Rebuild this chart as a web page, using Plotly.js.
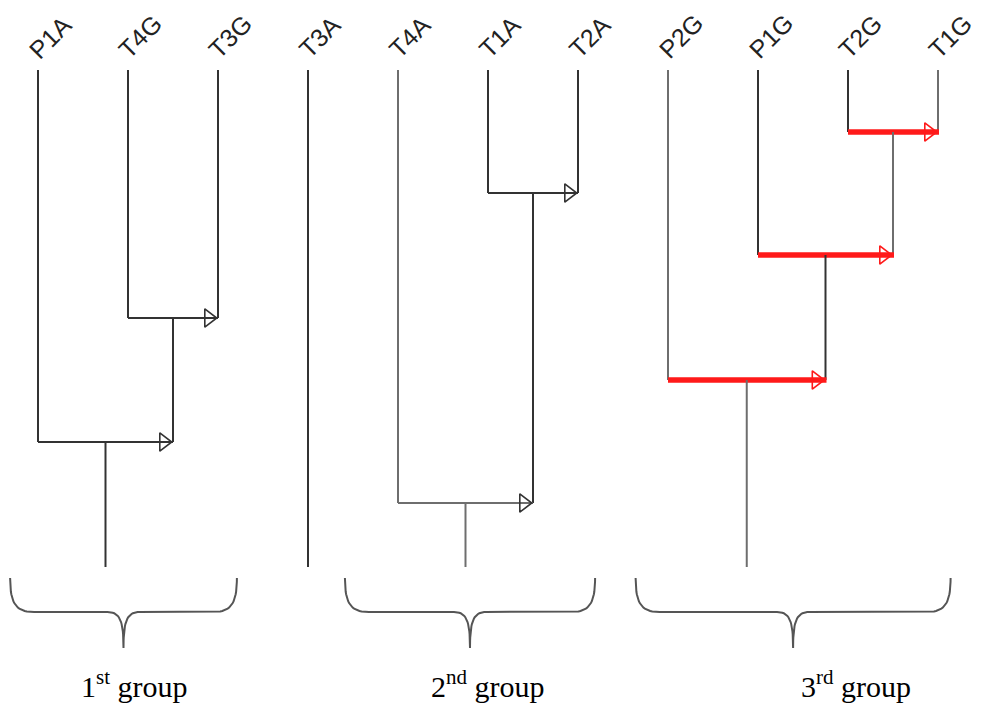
<!DOCTYPE html>
<html>
<head>
<meta charset="utf-8">
<script src="https://cdn.plot.ly/plotly-3.0.1.min.js"></script>
<style>html,body{margin:0;padding:0;background:#fff;}#chart{width:985px;height:709px;}</style>
</head>
<body>
<div id="chart"></div>
<script>
// ---- data ----
var leaves = ['P1A','T4G','T3G','T3A','T4A','T1A','T2A','P2G','P1G','T2G','T1G'];
// merges: left child, right child, merge height (distance from leaf tips)
var mergeLeft   = ['T4G','P1A','T1A','T4A','T2G','P1G','P2G'];
var mergeRight  = ['T3G','m0', 'T2A','m2', 'T1G','m4', 'm5'];
var mergeHeight = [248, 372, 123, 433, 62, 185, 310];
var mergeHighlight = [false,false,false,false,true,true,true];
var rootHeight = 497;
var groupNames = ['1<sup>st</sup> group','2<sup>nd</sup> group','3<sup>rd</sup> group'];

// ---- layout helpers (pixel scale: 90 px per leaf, 1 px per height unit) ----
var PXX = 90;
var braceStart = [-0.31, 3.41, 6.64];
var braceEnd   = [2.21, 6.19, 10.14];
var labelX     = [1.07, 5.0, 9.09];

var dark = '#333333', grey = '#6e6e6e', red = '#ff1a1a';
var lineColor = {P1A:dark,T4G:dark,T3G:dark,T3A:dark,T4A:grey,T1A:dark,T2A:dark,P2G:grey,P1G:dark,T2G:dark,T1G:grey,
                 m0:dark,m2:dark,m4:grey,m5:dark};

var pos = {}, hgt = {}, used = {};
leaves.forEach(function(l,i){ pos[l]=i; hgt[l]=0; });
var traces = [];
function seg(xs, ys, color, width){
  traces.push({x:xs, y:ys, mode:'lines', type:'scatter', hoverinfo:'skip',
    line:{color:color, width:width}, showlegend:false});
}
var arrowX = [], arrowY = [], arrowC = [];
for (var k=0;k<mergeLeft.length;k++){
  var a=mergeLeft[k], b=mergeRight[k], h=mergeHeight[k];
  var name='m'+k;
  var xa=pos[a], xb=pos[b];
  seg([xa,xa],[hgt[a],h], lineColor[a], 2);
  seg([xb,xb],[hgt[b],h], lineColor[b], 2);
  if (mergeHighlight[k]) {
    seg([xa,xb+1/PXX],[h,h], red, 5.5);
    arrowC.push(red);
  } else {
    seg([xa,xb],[h,h], (a==='T4A')?grey:dark, 2);
    arrowC.push(dark);
  }
  arrowX.push(xb - 9.2/PXX); arrowY.push(h);
  pos[name]=(xa+xb)/2; hgt[name]=h; used[a]=used[b]=true;
}
// root stems
['m1','m3','m6'].forEach(function(r){ seg([pos[r],pos[r]],[hgt[r],rootHeight], r==='m1'?dark:grey, 2); });
// singleton leaf
leaves.forEach(function(l){ if(!used[l]) seg([pos[l],pos[l]],[0,rootHeight], dark, 2); });

traces.push({x:arrowX, y:arrowY, mode:'markers', type:'scatter', hoverinfo:'skip', showlegend:false,
  marker:{symbol:'triangle-right-open', size:16, color:arrowC, line:{width:1.6, color:arrowC}}});

// braces as sampled bezier curves
function bez(p0,p1,p2,p3,out){
  for (var t=0;t<=1.0001;t+=0.05){
    var u=1-t;
    out.x.push(u*u*u*p0[0]+3*u*u*t*p1[0]+3*u*t*t*p2[0]+t*t*t*p3[0]);
    out.y.push(u*u*u*p0[1]+3*u*u*t*p1[1]+3*u*t*t*p2[1]+t*t*t*p3[1]);
  }
}
var braceTop=508, braceFlat=542, braceTip=578;
for (var g=0; g<groupNames.length; g++){
  var x0=braceStart[g], x1=braceEnd[g], xc=(x0+x1)/2;
  var cc=24/PXX, mm=16/PXX;
  var o={x:[],y:[]};
  bez([x0,braceTop],[x0,braceFlat-8],[x0+6/PXX,braceFlat],[x0+cc,braceFlat],o);
  bez([xc-mm,braceFlat],[xc-3/PXX,braceFlat],[xc,braceFlat+10],[xc,braceTip],o);
  bez([xc,braceTip],[xc,braceFlat+10],[xc+3/PXX,braceFlat],[xc+mm,braceFlat],o);
  bez([x1-cc,braceFlat],[x1-6/PXX,braceFlat],[x1,braceFlat-8],[x1,braceTop],o);
  traces.push({x:o.x, y:o.y, mode:'lines', type:'scatter', hoverinfo:'skip', showlegend:false,
    line:{color:'#555', width:2}});
}

var annotations = [];
leaves.forEach(function(l,i){
  annotations.push({x:i, y:-5, xref:'x', yref:'y', text:l, showarrow:false, textangle:-45,
    xanchor:'left', yanchor:'bottom', xshift:-16, yshift:0, borderpad:0,
    font:{family:'Liberation Sans, Arial, sans-serif', size:25, color:'#222'}});
});
for (var g2=0; g2<groupNames.length; g2++){
  annotations.push({x:labelX[g2], y:614, xref:'x', yref:'y', text:groupNames[g2], showarrow:false,
    xanchor:'center', yanchor:'middle',
    font:{family:'Liberation Serif, Times New Roman, serif', size:30, color:'#000'}});
}

var layout = {
  width:985, height:709, margin:{l:0,r:0,t:0,b:0},
  paper_bgcolor:'#fff', plot_bgcolor:'#fff',
  xaxis:{range:[-38/PXX, (985-38)/PXX], visible:false, fixedrange:true},
  yaxis:{range:[639,-70], visible:false, fixedrange:true},
  annotations:annotations, showlegend:false
};
Plotly.newPlot('chart', traces, layout, {staticPlot:true, displayModeBar:false});
</script>
</body>
</html>
